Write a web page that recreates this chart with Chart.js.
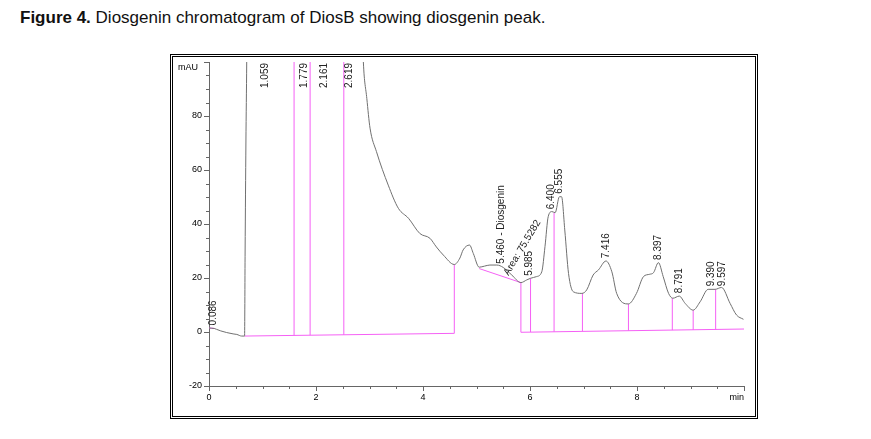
<!DOCTYPE html>
<html><head><meta charset="utf-8">
<script src="https://cdn.jsdelivr.net/npm/chart.js@4.4.1/dist/chart.umd.min.js"></script>
<style>
html,body{margin:0;padding:0;background:#fff;width:871px;height:439px;overflow:hidden;}
#title{position:absolute;left:20px;top:8px;font-family:"Liberation Sans",Arial,sans-serif;font-size:17px;color:#111;white-space:nowrap;}
#frame{position:absolute;left:170px;top:54px;width:582px;height:359px;border:3px double #000;}
canvas{position:absolute;left:0;top:0;}
</style></head><body>
<div id="title"><b>Figure 4.</b> Diosgenin chromatogram of DiosB showing diosgenin peak.</div>
<div id="frame"></div>
<canvas id="c" width="871" height="439"></canvas>
<script>
// ---- data (time in min, signal in mAU) ----
const traceT = [0.00,0.05,0.10,0.14,0.22,0.33,0.45,0.52,0.61,0.665,0.675,0.69,0.705,0.72,1.06,2.60,2.86,2.885,2.95,3.01,3.13,3.35,3.54,3.73,3.94,4.13,4.25,4.38,4.585,4.69,4.75,4.87,4.94,5.05,5.15,5.25,5.38,5.50,5.66,5.83,5.94,6.01,6.12,6.22,6.28,6.34,6.41,6.47,6.55,6.59,6.65,6.72,6.81,6.97,7.06,7.18,7.28,7.42,7.53,7.62,7.84,7.99,8.12,8.24,8.31,8.40,8.49,8.59,8.67,8.79,8.90,9.05,9.18,9.33,9.46,9.58,9.74,9.86,9.99];
const traceV = [1.5,1.4,1.3,1.0,0.4,-0.2,-0.7,-0.9,-1.5,-1.5,30,70,100,140,400,400,115,100,86.5,75.5,66.8,54.4,45.8,42.1,36.5,34.7,31.5,28.5,25.0,27.4,30.4,32.2,29.1,24.0,24.4,24.8,24.8,23.9,21.1,18.3,19.3,19.9,20.5,22.3,31.6,42.7,44.6,44.2,50.1,50.1,37.8,21.7,14.9,14.3,15.6,21.1,23.0,26.3,22.3,14.3,10.4,14.3,20.5,21.4,22.0,25.7,20.5,14.3,12.5,13.3,10.6,8.1,11.2,15.8,15.8,16.5,10.6,6.3,4.7];

// integration baselines (pink)
const baseLeftT = [0.665, 4.585];
const baseLeftV = [-1.5, -0.5];
const baseRightT = [5.83, 10.0];
const baseRightV = [-0.1, 1.1];
const slantT = [5.05, 5.83];
const slantV = [23.5, 18.3];
const startSegT = [0.0, 0.11];
const startSegV = [1.5, 1.3];
const dropT    = [1.59, 1.89, 2.52, 4.585, 5.83, 6.01, 6.45, 6.98, 7.84, 8.66, 9.05, 9.47];
const dropBase = [-1.26, -1.19, -1.03, -0.5, -0.1, 0.0, 0.1, 0.3, 0.5, 0.7, 0.8, 0.9];
const dropTop  = [110, 110, 110, 25.0, 18.3, 19.9, 44.2, 14.3, 10.4, 12.5, 8.1, 15.8];

// peak annotations
const peakT = [0.086, 1.059, 1.779, 2.161, 2.619, 5.460, 5.985, 6.400, 6.555, 7.416, 8.397, 8.791, 9.390, 9.597];
const peakText = ['0.086','1.059','1.779','2.161','2.619','5.460 - Diosgenin','5.985','6.400','6.555','7.416','8.397','8.791','9.390','9.597'];
const areaText = 'Area: 75.5282';
const areaPeak = 5.460;

// axes
const yMin = -20, yMax = 100, yStep = 5, yLabelEvery = 20;
const xMin = 0, xMax = 10, xStep = 0.5, xLabelEvery = 2;
const yUnit = 'mAU', xUnit = 'min';

// ---- build datasets ----
const pts = (ts, vs) => ts.map((t, i) => ({x: t, y: vs[i]}));
const dropPts = [];
dropT.forEach((t, i) => { dropPts.push({x: t, y: dropBase[i]}, {x: t, y: dropTop[i]}, {x: t, y: null}); });

const PINK = '#f560f5';
const FONT = '"Liberation Sans", Arial, sans-serif';

function traceAt(t) {
  for (let i = 1; i < traceT.length; i++) {
    if (t <= traceT[i]) {
      const f = (t - traceT[i-1]) / (traceT[i] - traceT[i-1]);
      return traceV[i-1] + f * (traceV[i] - traceV[i-1]);
    }
  }
  return traceV[traceV.length - 1];
}

const decor = {
  id: 'decor',
  afterDraw(chart) {
    const ctx = chart.ctx, xs = chart.scales.x, ys = chart.scales.y, ca = chart.chartArea;
    ctx.save();
    // tick marks (major/minor)
    ctx.strokeStyle = '#666'; ctx.lineWidth = 1;
    ys.ticks.forEach(tk => {
      const y = Math.round(ys.getPixelForValue(tk.value)) + 0.5;
      const len = (tk.value % yLabelEvery === 0) ? 5 : 3;
      ctx.beginPath(); ctx.moveTo(ca.left - len, y); ctx.lineTo(ca.left, y); ctx.stroke();
    });
    xs.ticks.forEach(tk => {
      const x = Math.round(xs.getPixelForValue(tk.value)) + 0.5;
      const len = (tk.value % xLabelEvery === 0) ? 5 : 3;
      ctx.beginPath(); ctx.moveTo(x, ca.bottom); ctx.lineTo(x, ca.bottom + len); ctx.stroke();
    });
    // units
    ctx.fillStyle = '#000'; ctx.font = '9px ' + FONT;
    ctx.textBaseline = 'middle';
    ctx.textAlign = 'left'; ctx.fillText(yUnit, ca.left - 31, ca.top + 6);
    ctx.textAlign = 'right'; ctx.fillText(xUnit, ca.right, ca.bottom + 12);
    // peak labels
    ctx.fillStyle = '#222'; ctx.font = '10px ' + FONT;
    peakT.forEach((t, i) => {
      const x = xs.getPixelForValue(t);
      const v = traceAt(t);
      ctx.save();
      if (v >= yMax) {
        ctx.translate(x, ca.top + 1); ctx.rotate(-Math.PI / 2);
        ctx.textAlign = 'right'; ctx.textBaseline = 'middle';
      } else {
        ctx.translate(x, ys.getPixelForValue(v) - 3); ctx.rotate(-Math.PI / 2);
        ctx.textAlign = 'left'; ctx.textBaseline = 'middle';
      }
      ctx.fillText(peakText[i], 0, 0);
      ctx.restore();
    });
    // area label
    {
      const x = xs.getPixelForValue(areaPeak) + 5;
      const y = ys.getPixelForValue(traceAt(areaPeak)) + 8;
      ctx.save();
      ctx.translate(x, y); ctx.rotate(-59 * Math.PI / 180);
      ctx.textAlign = 'left'; ctx.textBaseline = 'middle';
      ctx.fillText(areaText, 0, 0);
      ctx.restore();
    }
    ctx.restore();
  }
};

const lineDs = (data, color, extra) => Object.assign({
  data, borderColor: color, borderWidth: 1, pointRadius: 0, fill: false, clip: 0, spanGaps: false, tension: 0
}, extra || {});

new Chart(document.getElementById('c'), {
  type: 'line',
  data: {
    datasets: [
      lineDs(pts(traceT, traceV), '#707070', {cubicInterpolationMode: 'monotone'}),
      lineDs(pts(baseLeftT, baseLeftV), PINK),
      lineDs(pts(baseRightT, baseRightV), PINK),
      lineDs(pts(slantT, slantV), PINK),
      lineDs(pts(startSegT, startSegV), PINK),
      lineDs(dropPts, PINK)
    ]
  },
  options: {
    responsive: false,
    devicePixelRatio: 1,
    animation: false,
    events: [],
    layout: {padding: {left: 169, right: 127, top: 62, bottom: 23}},
    plugins: {legend: {display: false}, tooltip: {enabled: false}, title: {display: false}},
    scales: {
      x: {
        type: 'linear', min: xMin, max: xMax,
        grid: {display: true, drawOnChartArea: false, drawTicks: false},
        border: {display: true, color: '#666', width: 1},
        ticks: {stepSize: xStep, autoSkip: false, maxRotation: 0, padding: 6, color: '#000',
          font: {family: FONT, size: 9},
          callback: v => (v % xLabelEvery === 0 && v < xMax) ? String(v) : ''},
        afterFit: s => { s.height = 30; }
      },
      y: {
        type: 'linear', min: yMin, max: yMax,
        grid: {display: true, drawOnChartArea: false, drawTicks: false},
        border: {display: true, color: '#666', width: 1},
        ticks: {stepSize: yStep, autoSkip: false, padding: 7, color: '#000',
          font: {family: FONT, size: 9},
          callback: v => (v % yLabelEvery === 0 && v < yMax) ? String(v) : ''},
        afterFit: s => { s.width = 40; }
      }
    }
  },
  plugins: [decor]
});
</script>
</body></html>
